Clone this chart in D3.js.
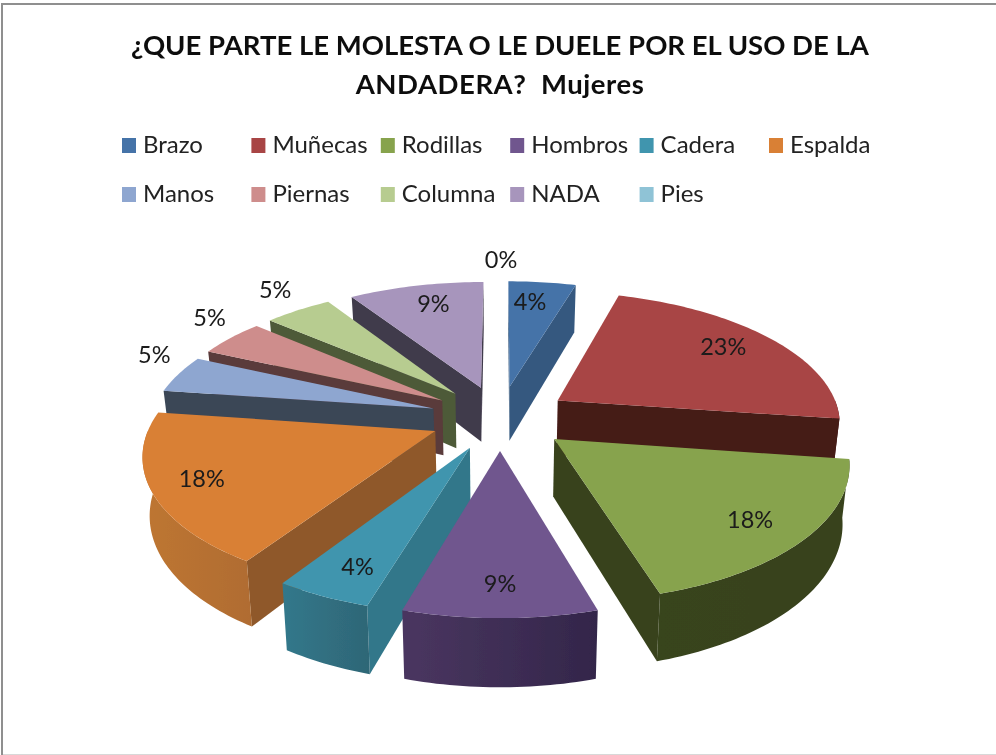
<!DOCTYPE html>
<html><head><meta charset="utf-8">
<script src="https://cdn.jsdelivr.net/npm/d3@7"></script>
<style>html,body{margin:0;padding:0;background:#fff}svg{display:block}text{font-family:Lato,"Open Sans",sans-serif}</style>
</head><body><svg id="c" width="996" height="755"></svg>
<script>
const titleLines = ["¿QUE PARTE LE MOLESTA O LE DUELE POR EL USO DE LA", "ANDADERA?  Mujeres"];
const categories = ["Brazo","Muñecas","Rodillas","Hombros","Cadera","Espalda","Manos","Piernas","Columna","NADA","Pies"];
const responses = [1,5,4,2,1,4,1,1,1,2,0];
const percentLabels = ["4%","23%","18%","9%","4%","18%","5%","5%","5%","9%","0%"];

const topColors  = ["#4573A8","#A84544","#87A34D","#6F568E","#3F95AE","#D98036","#8EA6D0","#CE8D8C","#B7CC90","#A795BC","#8FC3D6"];
const sideColors = ["#35597F","#451A18","#38421D","#36264A","#32778A","#8F592A","#3A4657","#5A3A3A","#4D5A38","#403B4C","#6A8FA0"];
const rimLeft    = ["#35597F","#451A18","#39441E","#4A3660","#33788B","#BE7633","#3A4657","#5A3A3A","#4D5A38","#403B4C","#6A8FA0"];
const rimRight   = ["#35597F","#451A18","#38421D","#33264A","#2E6676","#B06C30","#3A4657","#5A3A3A","#4D5A38","#403B4C","#6A8FA0"];
const labelFraction = [.72,.72,.72,.72,.72,.72,1.12,1.12,1.12,.72,1.1];
const labelNudge = [[-4,-7],[10,-7],[21,11],[0,19],[-11,17],[-33,6],[5,-15],[2,-13],[-6,-11],[1,-8],[1,-12]];

const view = {cx:500, cy:417.5, radius:283, explode:70, tilt:.46, persp:.00054, depth:56, taper:.98};
const svg = d3.select("#c");

const soft = svg.append("defs").append("filter").attr("id","soft")
  .attr("filterUnits","userSpaceOnUse").attr("x",0).attr("y",0).attr("width",996).attr("height",755);
soft.append("feGaussianBlur").attr("stdDeviation",.45);
const root = svg.append("g").attr("filter","url(#soft)");

// frame
root.append("rect").attr("x",1).attr("y",3).attr("width",2).attr("height",752).attr("fill","#8f8f8f");
root.append("rect").attr("x",1).attr("y",3).attr("width",995).attr("height",2).attr("fill","#8f8f8f");
root.append("rect").attr("x",3).attr("y",754).attr("width",993).attr("height",1).attr("fill","#d8d8d8");

// title
root.append("g").selectAll("text").data(titleLines).join("text")
  .attr("x",500).attr("y",(d,i)=>55+i*39).attr("text-anchor","middle")
  .attr("font-size",27.5).attr("font-weight",700).attr("fill","#111").attr("xml:space","preserve")
  .attr("letter-spacing",(d,i)=>i?.55:0).text(d=>d);

// legend
const colX = d3.scalePoint().domain(d3.range(6)).range([122,769]);
const rowY = d3.scalePoint().domain([0,1]).range([145,194]);
const leg = root.append("g").selectAll("g").data(categories).join("g")
  .attr("transform",(d,i)=>`translate(${colX(i%6)},${rowY(Math.floor(i/6))})`);
leg.append("rect").attr("y",-7).attr("width",14).attr("height",15).attr("fill",(d,i)=>topColors[i]);
leg.append("text").attr("x",21).attr("y",8).attr("font-size",24).attr("fill","#222").text(d=>d);

// pie
const pie = d3.pie().sort(null).value(d=>d).startAngle(0).endAngle(2*Math.PI);
const arcs = pie(responses).map((a,i)=>({...a,i,mid:(a.startAngle+a.endAngle)/2}));
const radial = d3.scaleLinear().domain([0,1]).range([0,view.radius]);

function project(arc, a, f, low){
  const X = view.explode*Math.sin(arc.mid)+radial(f)*Math.sin(a);
  const Y = -view.explode*Math.cos(arc.mid)-radial(f)*Math.cos(a);
  const p = 1/(1-view.persp*Y);
  const k = low ? view.taper : 1;
  return [view.cx+X*p*k, view.cy+Y*view.tilt*p+(low?view.depth*p:0)];
}
const line = d3.line();
const steps = (a,b)=>{const n=Math.max(2,Math.ceil((b-a)/.02));return d3.range(n+1).map(j=>a+(b-a)*j/n);};

const defs = svg.select("defs");
arcs.forEach(d=>{
  const g=defs.append("linearGradient").attr("id","rim"+d.i);
  g.append("stop").attr("offset",0).attr("stop-color",rimLeft[d.i]);
  g.append("stop").attr("offset",1).attr("stop-color",rimRight[d.i]);
});

const order = arcs.filter(d=>d.value>0).slice().sort((p,q)=>d3.ascending(-Math.cos(p.mid),-Math.cos(q.mid)));
const slices = root.append("g").selectAll("g").data(order).join("g");
slices.each(function(d){
  const g=d3.select(this);
  const wall=(a,visibleSign)=>{
    const q=[project(d,a,0),project(d,a,1),project(d,a,1,true),project(d,a,0,true)];
    if(d3.polygonArea(q)*visibleSign>0) g.append("path").attr("d",line(q)+"Z").attr("fill",sideColors[d.i]);
  };
  wall(d.startAngle,1);
  wall(d.endAngle,-1);
  const a0=Math.max(d.startAngle,Math.PI/2), a1=Math.min(d.endAngle,Math.PI*1.5);
  if(a1>a0){
    const as=steps(a0,a1);
    const pts=as.map(a=>project(d,a,1)).concat(as.slice().reverse().map(a=>project(d,a,1,true)));
    g.append("path").attr("d",line(pts)+"Z").attr("fill",`url(#rim${d.i})`);
  }
  const pts=[project(d,0,0)].concat(steps(d.startAngle,d.endAngle).map(a=>project(d,a,1)));
  g.append("path").attr("d",line(pts)+"Z").attr("fill",topColors[d.i]);
});

// data labels
root.append("g").selectAll("text").data(arcs).join("text")
  .attr("text-anchor","middle").attr("font-size",23.5).attr("fill","#1a1a1a")
  .attr("x",d=>project(d,d.mid,labelFraction[d.i])[0]+labelNudge[d.i][0])
  .attr("y",d=>project(d,d.mid,labelFraction[d.i])[1]+8+labelNudge[d.i][1])
  .text(d=>percentLabels[d.i]);
</script></body></html>
